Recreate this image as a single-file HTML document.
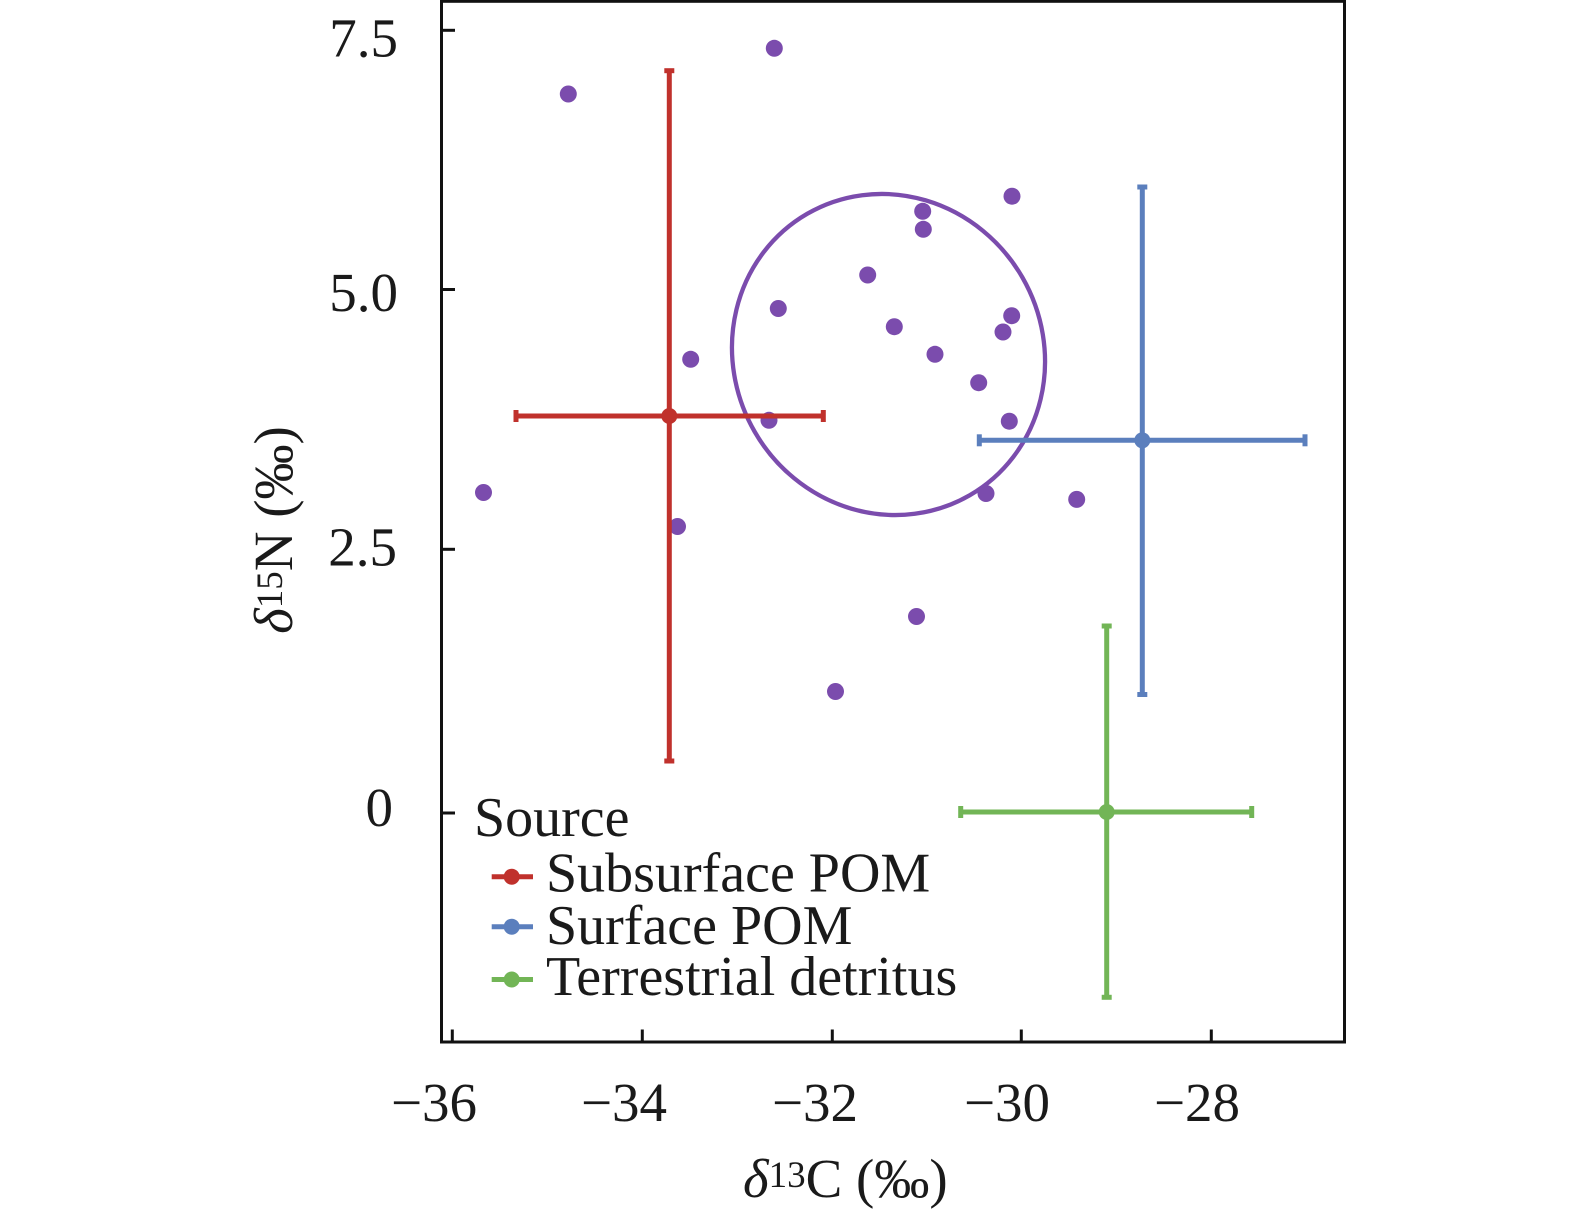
<!DOCTYPE html>
<html>
<head>
<meta charset="utf-8">
<style>
  html, body { margin: 0; padding: 0; background: #ffffff; }
  body { width: 1575px; height: 1215px; overflow: hidden; }
  svg { display: block; }
  text { font-family: "Liberation Serif", "DejaVu Serif", serif; fill: #1a1a1a; }
</style>
</head>
<body>
<svg width="1575" height="1215" viewBox="0 0 1575 1215" xmlns="http://www.w3.org/2000/svg">
  <rect x="0" y="0" width="1575" height="1215" fill="#ffffff"/>

  <!-- ellipse -->
  <ellipse cx="888.5" cy="354.5" rx="162.5" ry="154.5" transform="rotate(60 888.5 354.5)" fill="none" stroke="#7b4cad" stroke-width="4.3"/>

  <!-- data points -->
  <g fill="#7b4cad">
    <circle cx="568.3" cy="94" r="8.5"/>
    <circle cx="774.3" cy="48.3" r="8.5"/>
    <circle cx="1012" cy="196.2" r="8.5"/>
    <circle cx="922.7" cy="211.3" r="8.5"/>
    <circle cx="923.3" cy="229.3" r="8.5"/>
    <circle cx="867.7" cy="275" r="8.5"/>
    <circle cx="778.3" cy="308.5" r="8.5"/>
    <circle cx="1011.7" cy="315.7" r="8.5"/>
    <circle cx="894.3" cy="326.7" r="8.5"/>
    <circle cx="1003" cy="332" r="8.5"/>
    <circle cx="690.7" cy="359.3" r="8.5"/>
    <circle cx="935" cy="354.3" r="8.5"/>
    <circle cx="978.7" cy="382.7" r="8.5"/>
    <circle cx="1009.3" cy="421.2" r="8.5"/>
    <circle cx="769" cy="420.3" r="8.5"/>
    <circle cx="483.5" cy="492.5" r="8.5"/>
    <circle cx="986" cy="493.5" r="8.5"/>
    <circle cx="1076.7" cy="499.4" r="8.5"/>
    <circle cx="677.5" cy="526.5" r="8.5"/>
    <circle cx="916.5" cy="616.5" r="8.5"/>
    <circle cx="835.5" cy="691.5" r="8.5"/>
  </g>

  <!-- Subsurface POM (red) -->
  <g stroke="#c0312c" stroke-width="5" fill="none">
    <line x1="669.3" y1="70.7" x2="669.3" y2="761"/>
    <line x1="516" y1="416" x2="823.3" y2="416"/>
    <line x1="664.3" y1="70.7" x2="674.3" y2="70.7"/>
    <line x1="664.3" y1="761" x2="674.3" y2="761"/>
    <line x1="516" y1="410" x2="516" y2="422"/>
    <line x1="823.3" y1="410" x2="823.3" y2="422"/>
  </g>
  <circle cx="669.3" cy="416" r="8" fill="#c0312c"/>

  <!-- Surface POM (blue) -->
  <g stroke="#5b7fbd" stroke-width="5" fill="none">
    <line x1="1142.3" y1="187" x2="1142.3" y2="694.5"/>
    <line x1="979.3" y1="440.3" x2="1305" y2="440.3"/>
    <line x1="1137.3" y1="187" x2="1147.3" y2="187"/>
    <line x1="1137.3" y1="694.5" x2="1147.3" y2="694.5"/>
    <line x1="979.3" y1="434.3" x2="979.3" y2="446.3"/>
    <line x1="1305" y1="434.3" x2="1305" y2="446.3"/>
  </g>
  <circle cx="1142.3" cy="440.3" r="8" fill="#5b7fbd"/>

  <!-- Terrestrial detritus (green) -->
  <g stroke="#72b556" stroke-width="5" fill="none">
    <line x1="1106.7" y1="626" x2="1106.7" y2="997.3"/>
    <line x1="960.7" y1="812" x2="1251.7" y2="812"/>
    <line x1="1101.7" y1="626" x2="1111.7" y2="626"/>
    <line x1="1101.7" y1="997.3" x2="1111.7" y2="997.3"/>
    <line x1="960.7" y1="806" x2="960.7" y2="818"/>
    <line x1="1251.7" y1="806" x2="1251.7" y2="818"/>
  </g>
  <circle cx="1106.7" cy="812" r="8" fill="#72b556"/>

  <!-- axes frame -->
  <rect x="441.5" y="1.3" width="903" height="1040.7" fill="none" stroke="#111111" stroke-width="3"/>

  <!-- y ticks -->
  <g stroke="#111111" stroke-width="3">
    <line x1="441.5" y1="30.3" x2="455" y2="30.3"/>
    <line x1="441.5" y1="289.5" x2="455" y2="289.5"/>
    <line x1="441.5" y1="549.3" x2="455" y2="549.3"/>
    <line x1="441.5" y1="813" x2="455" y2="813"/>
  </g>
  <!-- x ticks -->
  <g stroke="#111111" stroke-width="3">
    <line x1="452.3" y1="1042" x2="452.3" y2="1029.5"/>
    <line x1="642.3" y1="1042" x2="642.3" y2="1029.5"/>
    <line x1="832.3" y1="1042" x2="832.3" y2="1029.5"/>
    <line x1="1021.3" y1="1042" x2="1021.3" y2="1029.5"/>
    <line x1="1211.3" y1="1042" x2="1211.3" y2="1029.5"/>
  </g>

  <!-- y tick labels -->
  <g font-size="55" text-anchor="end">
    <text x="398" y="56.5">7.5</text>
    <text x="398" y="311">5.0</text>
    <text x="397" y="565.7">2.5</text>
    <text x="393" y="826">0</text>
  </g>

  <!-- x tick labels -->
  <g font-size="55" text-anchor="end">
    <text x="477" y="1121">−36</text>
    <text x="667" y="1121">−34</text>
    <text x="858" y="1121">−32</text>
    <text x="1050" y="1121">−30</text>
    <text x="1240" y="1121">−28</text>
  </g>

  <!-- x axis label -->
  <text x="743" y="1197" font-size="55"><tspan font-style="italic">δ</tspan><tspan font-size="37" dy="-10">13</tspan><tspan dy="10">C (‰)</tspan></text>

  <!-- y axis label -->
  <text transform="translate(292,530) rotate(-90)" text-anchor="middle" font-size="55"><tspan font-style="italic">δ</tspan><tspan font-size="37" dy="-10">15</tspan><tspan dy="10">N (‰)</tspan></text>

  <!-- legend -->
  <text x="474" y="836" font-size="56">Source</text>
  <g stroke-width="5">
    <line x1="491.7" y1="876.7" x2="533" y2="876.7" stroke="#c0312c"/>
    <line x1="491.7" y1="926.7" x2="533" y2="926.7" stroke="#5b7fbd"/>
    <line x1="491.7" y1="979.5" x2="533" y2="979.5" stroke="#72b556"/>
  </g>
  <circle cx="511.7" cy="876.7" r="8" fill="#c0312c"/>
  <circle cx="511.7" cy="926.7" r="8" fill="#5b7fbd"/>
  <circle cx="511.7" cy="979.5" r="8" fill="#72b556"/>
  <g font-size="56">
    <text x="546" y="891.7">Subsurface POM</text>
    <text x="546" y="944">Surface POM</text>
    <text x="546" y="995">Terrestrial detritus</text>
  </g>
</svg>
</body>
</html>
